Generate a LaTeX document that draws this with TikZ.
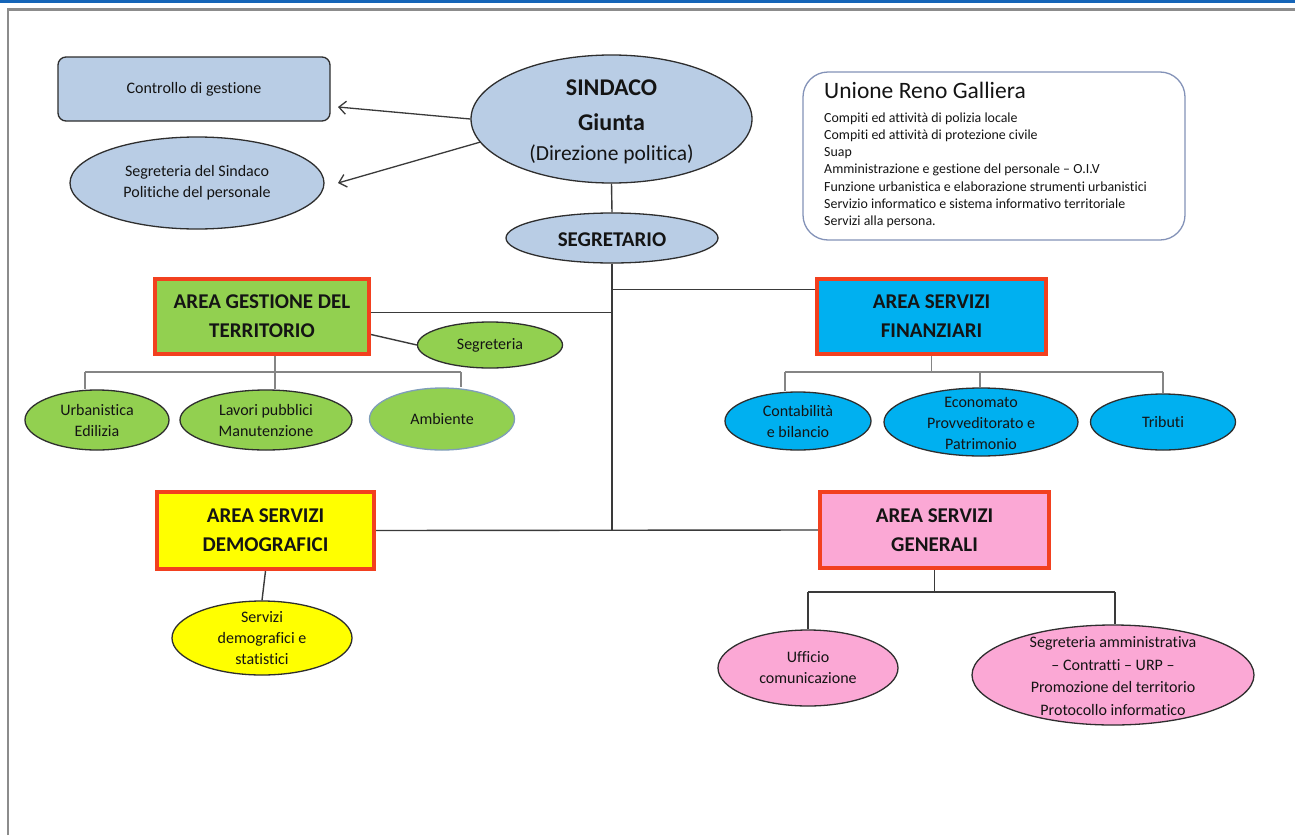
\documentclass[tikz,border=0pt]{standalone}
\usepackage{fontspec}
\setmainfont{Carlito}[Ligatures=NoCommon]
\usetikzlibrary{shapes.geometric, arrows.meta, calc, backgrounds}
\definecolor{lblue}{HTML}{B9CDE5}
\definecolor{gr}{HTML}{92D050}
\definecolor{cy}{HTML}{00B0F0}
\definecolor{ye}{HTML}{FFFF00}
\definecolor{pk}{HTML}{FBA8D5}
\definecolor{rd}{HTML}{F2401F}
\definecolor{txc}{HTML}{141414}
\definecolor{edgec}{HTML}{2E2E2E}
\definecolor{ubord}{HTML}{8392B8}
\definecolor{ambb}{HTML}{7F9DB9}
\definecolor{frameblue}{HTML}{1565B8}
\definecolor{framegray}{HTML}{8C8C8C}
\definecolor{conn}{HTML}{3A3A3A}
\definecolor{subconn}{HTML}{858585}
\begin{document}
\begin{tikzpicture}[x=1pt,y=-1pt,
  ell/.style={ellipse, draw=edgec, line width=1.3pt, inner sep=0pt},
  areabox/.style={rectangle, draw=rd, line width=4pt, inner sep=0pt},
  txt/.style={align=center, inner sep=0pt, text=txc, font=\fontsize{16}{21}\selectfont},
  areatxt/.style={align=center, inner sep=0pt, text=txc, font=\fontsize{21}{29}\selectfont\bfseries},
  maincon/.style={draw=conn, line width=1.4pt},
  subcon/.style={draw=subconn, line width=1.2pt},
  arr/.style={draw=conn, line width=1.3pt, -{Straight Barb[length=7pt,width=13pt]}},
  ulist/.style={anchor=base west, inner sep=0pt, text=txc, font=\fontsize{13.9}{17}\selectfont},
]
\useasboundingbox (0,0) rectangle (1295,835);

% ---- nodes ----
\node[rectangle, rounded corners=8pt, draw=edgec, line width=1.3pt, fill=lblue,
      minimum width=272pt, minimum height=64pt] (ctrl) at (194,89) {};
\node[txt] (ctrl-t) at (ctrl) {Controllo di gestione};

\node[ell, fill=lblue, minimum width=254pt, minimum height=92pt] (ssind) at (197,183) {};
\node[txt] (ssind-t) at (ssind) {Segreteria del Sindaco\\Politiche del personale};

\node[ell, fill=lblue, minimum width=281pt, minimum height=128pt] (sind) at (611.5,119) {};
\node[anchor=base, inner sep=0pt, text=txc, font=\fontsize{24}{28}\selectfont\bfseries]
      (sind-t1) at ($(sind.center)+(0,-24)$) {SINDACO};
\node[anchor=base, inner sep=0pt, text=txc, font=\fontsize{24}{28}\selectfont\bfseries]
      (sind-t2) at ($(sind.center)+(0,11)$) {Giunta};
\node[anchor=base, inner sep=0pt, text=txc, font=\fontsize{21.5}{26}\selectfont]
      (sind-t3) at ($(sind.center)+(0,41)$) {(Direzione politica)};

\node[ell, fill=lblue, minimum width=212pt, minimum height=50pt] (segr) at (612,238) {};
\node[anchor=base, inner sep=0pt, text=txc, font=\fontsize{21}{26}\selectfont\bfseries]
      (segr-t) at ($(segr.center)+(0,8)$) {SEGRETARIO};

\node[rectangle, rounded corners=25pt, draw=ubord, line width=1.3pt, fill=white,
      minimum width=382pt, minimum height=168pt] (uni) at (994,156) {};
\node[anchor=base west, inner sep=0pt, text=txc, font=\fontsize{23.5}{28}\selectfont]
      (uni-t) at (824,98) {Unione Reno Galliera};
\node[ulist] (u1) at (824,122) {Compiti ed attività di polizia locale};
\node[ulist] (u2) at (824,139.3) {Compiti ed attività di protezione civile};
\node[ulist] (u3) at (824,156.6) {Suap};
\node[ulist] (u4) at (824,173.9) {Amministrazione e gestione del personale – O.I.V};
\node[ulist] (u5) at (824,191.2) {Funzione urbanistica e elaborazione strumenti urbanistici};
\node[ulist] (u6) at (824,208.5) {Servizio informatico e sistema informativo territoriale};
\node[ulist] (u7) at (824,225.8) {Servizi alla persona.};

% Area gestione del territorio
\node[areabox, fill=gr, minimum width=214pt, minimum height=75pt] (gest) at (262,316.5) {};
\node[areatxt] (gest-t) at (gest) {AREA GESTIONE DEL\\TERRITORIO};
\node[ell, fill=gr, minimum width=145pt, minimum height=46pt] (gseg) at (490,345) {};
\node[txt] (gseg-t) at (gseg) {Segreteria};
\node[ell, fill=gr, minimum width=144pt, minimum height=60pt] (urb) at (97,420) {};
\node[txt] (urb-t) at (urb) {Urbanistica\\Edilizia};
\node[ell, fill=gr, minimum width=172pt, minimum height=60pt] (lav) at (266,420) {};
\node[txt] (lav-t) at (lav) {Lavori pubblici\\Manutenzione};
\node[ell, fill=gr, draw=ambb, minimum width=145pt, minimum height=62pt] (amb) at (442,419) {};
\node[txt] (amb-t) at (amb) {Ambiente};

% Area servizi finanziari
\node[areabox, fill=cy, minimum width=229pt, minimum height=75pt] (fin) at (931.5,316.5) {};
\node[areatxt] (fin-t) at (fin) {AREA SERVIZI\\FINANZIARI};
\node[ell, fill=cy, minimum width=146pt, minimum height=58pt] (cont) at (798,421) {};
\node[txt] (cont-t) at (cont) {Contabilità\\e bilancio};
\node[ell, fill=cy, minimum width=194pt, minimum height=68pt] (econ) at (981,422) {};
\node[txt] (econ-t) at ($(econ)+(0,1)$) {Economato\\Provveditorato e\\Patrimonio};
\node[ell, fill=cy, minimum width=145pt, minimum height=56pt] (trib) at (1163,422) {};
\node[txt] (trib-t) at (trib) {Tributi};

% Area servizi demografici
\node[areabox, fill=ye, minimum width=217pt, minimum height=77pt] (dem) at (265.5,530.5) {};
\node[areatxt] (dem-t) at (dem) {AREA SERVIZI\\DEMOGRAFICI};
\node[ell, fill=ye, minimum width=180pt, minimum height=74pt] (sdem) at (262,638) {};
\node[txt] (sdem-t) at (sdem) {Servizi\\demografici e\\statistici};

% Area servizi generali
\node[areabox, fill=pk, minimum width=229pt, minimum height=76pt] (gen) at (934.5,530) {};
\node[areatxt] (gen-t) at (gen) {AREA SERVIZI\\GENERALI};
\node[ell, fill=pk, minimum width=180pt, minimum height=76pt] (uff) at (808,668) {};
\node[txt] (uff-t) at (uff) {Ufficio\\comunicazione};
\node[ell, fill=pk, minimum width=282pt, minimum height=100pt] (segam) at (1113,675) {};
\node[txt, font=\fontsize{16}{22.5}\selectfont] (segam-t) at ($(segam)+(0,1)$)
      {Segreteria amministrativa\\– Contratti – URP –\\Promozione del territorio\\Protocollo informatico};

% ---- frame and connectors (behind) ----
\begin{scope}[on background layer]
\fill[white] (0,0) rectangle (1295,835);
\fill[frameblue] (0,0) rectangle (1295,2.5);
\draw[framegray, line width=2.5pt] (8,835) -- (8,9.5) -- (1295,9.5);

\coordinate (a1) at (338,107);
\coordinate (a2) at (338,183);
\draw[arr] (sind.west) -- (a1);
\draw[arr] (sind.190) -- (a2);

\draw[maincon] (sind.south) -- (segr.north);
\coordinate (jb) at (segr.south |- dem.east);
\draw[maincon] (segr.south) -- (jb);
\draw[maincon] (dem.east) -- (gen.west);
\coordinate (j1) at ($(segr.south)+(0,26)$);
\draw[maincon] (j1) -- (j1 -| fin.west);
\coordinate (j2) at ($(segr.south)+(0,49)$);
\draw[maincon] (j2) -- (j2 -| gest.east);
\draw[maincon] ($(gest.east)+(0,18)$) -- (gseg.west);
\draw[maincon] (dem.south) -- (sdem.north);

% gestione bus
\coordinate (gbus) at (275,372);
\coordinate (gb1) at (85,372);
\coordinate (gb3) at (461,372);
\draw[subcon] (gest.south -| gbus) -- (gbus |- lav.north);
\draw[subcon] (gb1) -- (gb3);
\draw[subcon] (gb1) -- (gb1 |- urb.north);
\draw[subcon] (gb3) -- (gb3 |- amb.north);

% finanziari bus
\coordinate (fbus) at (fin.south |- gbus);
\coordinate (fb1) at (785,372);
\coordinate (fb2) at (980,372);
\coordinate (fb3) at (1163,372);
\draw[subcon] (fin.south) -- (fbus);
\draw[subcon] (fb1) -- (fb3);
\draw[subcon] (fb1) -- (fb1 |- cont.north);
\draw[subcon] (fb2) -- (fb2 |- econ.north);
\draw[subcon] (fb3) -- (fb3 |- trib.north);

% generali bus
\coordinate (nbus) at ($(gen.south)+(0,22)$);
\coordinate (nb1) at (nbus -| uff.north);
\coordinate (nb2) at (1115,592);
\draw[maincon, line width=1.2pt] (gen.south) -- (nbus);
\draw[maincon, line width=1.2pt] (nb1) -- (nb2);
\draw[maincon, line width=1.2pt] (nb1) -- (uff.north);
\draw[maincon, line width=1.2pt] (nb2) -- (nb2 |- segam.north);
\end{scope}
\end{tikzpicture}
\end{document}
